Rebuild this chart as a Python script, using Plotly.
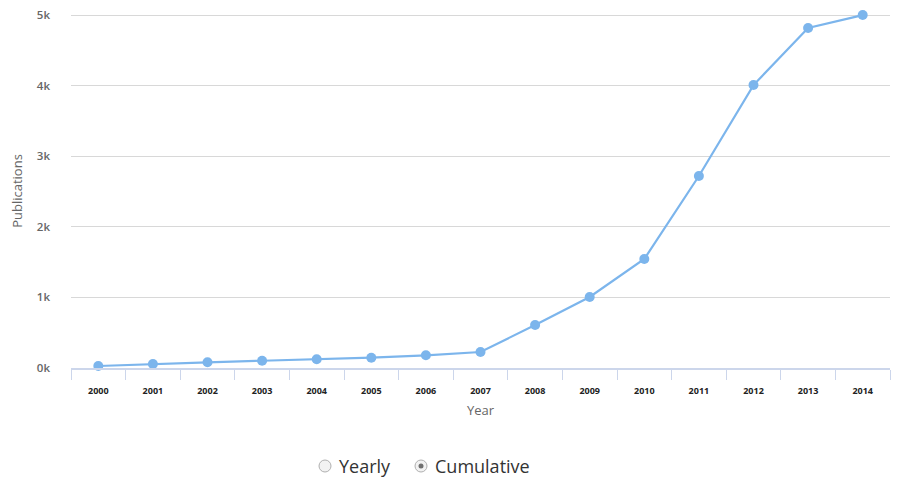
import plotly.graph_objects as go

years = [str(y) for y in range(2000, 2015)]
publications = [28, 57, 81, 103, 123, 146, 180, 227, 609, 1006, 1544, 2720, 4008, 4816, 5000]
y_tick_vals = [0, 1000, 2000, 3000, 4000, 5000]
y_tick_text = ["0k", "1k", "2k", "3k", "4k", "5k"]

fig = go.Figure()
fig.add_trace(go.Scatter(
    x=years, y=publications, mode="lines+markers",
    line=dict(color="#7cb5ec", width=2.2),
    marker=dict(color="#7cb5ec", size=10),
    hoverinfo="x+y", showlegend=False, cliponaxis=False,
))

# the page body has an 8px default margin, so the plot area is set 8px up/left
fig.update_layout(
    width=903, height=483,
    margin=dict(l=63, r=21, t=6, b=123, autoexpand=False),
    paper_bgcolor="white", plot_bgcolor="white",
    font=dict(family="Open Sans, DejaVu Sans, sans-serif", color="#666666"),
    xaxis=dict(
        type="category", tickson="boundaries", ticks="outside", ticklen=10,
        tickcolor="#ccd6eb", showline=True, linecolor="#ccd6eb", linewidth=2,
        showgrid=False, automargin=False,
        tickfont=dict(size=9, color="#222222", family="Open Sans, sans-serif", weight="bold"),
        ticklabelstandoff=13,
        title=dict(text="Year", font=dict(size=13, color="#666666"), standoff=10),
        range=[-0.5, 14.5], fixedrange=True,
    ),
    yaxis=dict(
        range=[0, 5015], tickvals=y_tick_vals, ticktext=y_tick_text,
        showgrid=True, gridcolor="#d8d8d8", gridwidth=1, zeroline=False,
        automargin=False, ticklabeloverflow="allow",
        tickfont=dict(size=11.5, color="#666666", weight=600),
        ticklabelstandoff=20,
        title=dict(text="Publications", font=dict(size=13, color="#666666"), standoff=22),
        fixedrange=True,
    ),
)

# radio-style legend (positions in screen px, converted to the plot area's paper coords)
X0, XW, Y0, YH = 71, 819, 368, 354


def px(x):
    return (x - X0) / XW


def py(y):
    return (Y0 - y) / YH


fig.add_shape(type="circle", xref="paper", yref="paper",
              x0=px(319), x1=px(331), y0=py(472), y1=py(460),
              line=dict(color="#b0b0b0", width=1), fillcolor="#f2f2f2")
fig.add_shape(type="circle", xref="paper", yref="paper",
              x0=px(415), x1=px(427), y0=py(472), y1=py(460),
              line=dict(color="#b0b0b0", width=1), fillcolor="#f2f2f2")
fig.add_shape(type="circle", xref="paper", yref="paper",
              x0=px(418.5), x1=px(423.5), y0=py(468.5), y1=py(463.5),
              line=dict(color="#707070", width=0), fillcolor="#707070")
fig.add_annotation(xref="paper", yref="paper", x=px(337), y=py(466),
                   text="Yearly", showarrow=False, xanchor="left", yanchor="middle",
                   font=dict(size=18, color="#333333"))
fig.add_annotation(xref="paper", yref="paper", x=px(433), y=py(466),
                   text="Cumulative", showarrow=False, xanchor="left", yanchor="middle",
                   font=dict(size=18, color="#333333"))

fig.write_html("out.html")
